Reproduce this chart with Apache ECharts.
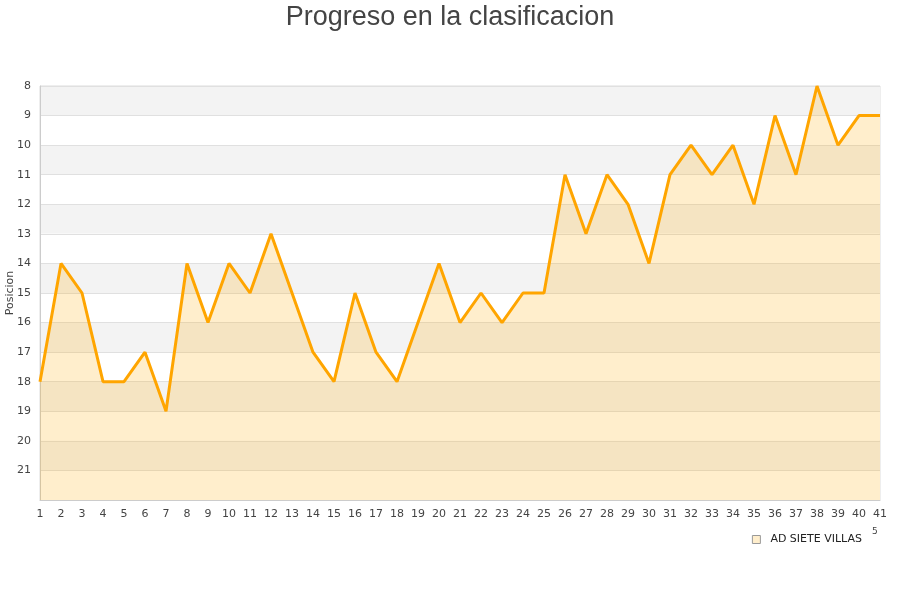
<!DOCTYPE html>
<html>
<head>
<meta charset="utf-8">
<script src="https://cdn.jsdelivr.net/npm/echarts@6/dist/echarts.min.js"></script>
<style>
  html, body { margin: 0; padding: 0; background: #fff; }
  #chart { width: 900px; height: 600px; }
</style>
</head>
<body>
<div id="chart"></div>
<script>
// jornadas y posiciones
var jornadas = [];
for (var j = 1; j <= 41; j++) jornadas.push(String(j));
var posiciones = [18, 14, 15, 18, 18, 17, 19, 14, 16, 14,
                  15, 13, 15, 17, 18, 15, 17, 18, 16, 14,
                  16, 15, 16, 15, 15, 11, 13, 11, 12, 14,
                  11, 10, 11, 10, 12, 9, 11, 8, 10, 9, 9];
var equipo = 'AD SIETE VILLAS';

var myChart = echarts.init(document.getElementById('chart'));
var option = {
  animation: false,
  textStyle: { fontFamily: 'DejaVu Sans' },
  title: {
    text: 'Progreso en la clasificacion',
    left: 'center',
    top: -1,
    textStyle: { fontFamily: 'Liberation Sans', fontSize: 27, fontWeight: 'normal', color: '#444' }
  },
  legend: {
    data: [{ name: equipo, icon: 'rect', itemStyle: { color: '#ffeecc', borderColor: '#999', borderWidth: 1 } }],
    right: 33,
    top: 529,
    itemWidth: 8,
    itemHeight: 8,
    itemGap: 10,
    textStyle: { fontSize: 11, color: '#222', padding: [0, 0, 0, 5] }
  },
  grid: {
    left: 40,
    right: 20,
    top: 86,
    bottom: 100,
    containLabel: false,
    outerBoundsMode: 'none',
    show: true,
    borderColor: '#ddd',
    borderWidth: 1
  },
  xAxis: {
    type: 'category',
    data: jornadas,
    boundaryGap: false,
    axisLine: { lineStyle: { color: '#ccc' } },
    axisTick: { show: false },
    axisLabel: { color: '#444', fontSize: 11, margin: 9, interval: 0 },
    splitLine: { show: false }
  },
  yAxis: {
    type: 'value',
    inverse: true,
    min: 8,
    max: 22,
    interval: 1,
    name: 'Posicion',
    nameLocation: 'middle',
    nameGap: 24,
    nameMoveOverlap: false,
    nameTextStyle: { fontSize: 11, color: '#444' },
    axisLine: { show: true, lineStyle: { color: '#ccc' } },
    axisTick: { show: false },
    axisLabel: {
      color: '#444',
      fontSize: 11,
      margin: 9,
      formatter: function (v) { return v === 22 ? '' : v; }
    },
    splitLine: { lineStyle: { color: '#e0e0e0' } },
    splitArea: { show: true, areaStyle: { color: ['#f3f3f3', '#ffffff'] } }
  },
  series: [{
    name: equipo,
    type: 'line',
    data: posiciones,
    showSymbol: false,
    symbol: 'none',
    lineStyle: { color: '#ffa500', width: 3 },
    itemStyle: { color: '#ffa500' },
    areaStyle: { color: '#ffaa00', opacity: 0.2, origin: 'end' }
  }],
  graphic: [{
    type: 'text',
    left: 872,
    top: 527,
    style: { text: '5', fontSize: 9, fill: '#444', fontFamily: 'DejaVu Sans' }
  }]
};
myChart.setOption(option);
</script>
</body>
</html>
